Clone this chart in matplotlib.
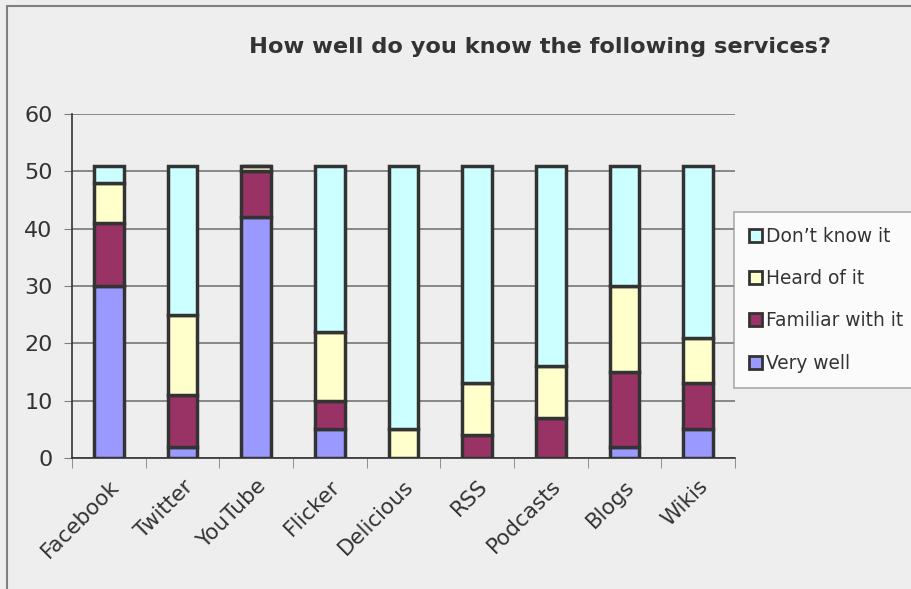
import matplotlib
matplotlib.use("Agg")
import matplotlib.pyplot as plt
from matplotlib.patches import Rectangle, Patch
import numpy as np

categories = ["Facebook", "Twitter", "YouTube", "Flicker", "Delicious", "RSS", "Podcasts", "Blogs", "Wikis"]
very_well = [30, 2, 42, 5, 0, 0, 0, 2, 5]
familiar = [11, 9, 8, 5, 0, 4, 7, 13, 8]
heard = [7, 14, 1, 12, 5, 9, 9, 15, 8]
dont_know = [3, 26, 0, 29, 46, 38, 35, 21, 30]

series = [("Very well", very_well, "#9999FF"),
          ("Familiar with it", familiar, "#993366"),
          ("Heard of it", heard, "#FFFFCC"),
          ("Don\u2019t know it", dont_know, "#CCFFFF")]

bg = "#EEEEEE"
edge = "#333333"
fig = plt.figure(figsize=(9.12, 5.89), dpi=100, facecolor=bg)
ax = fig.add_axes([72/912, 1-458/589, (735-72)/912, (458-114)/589])
ax.set_facecolor(bg)

x = np.arange(len(categories))
bottom = np.zeros(len(categories))
handles = []
for name, vals, col in series:
    ax.bar(x, vals, 0.4, bottom=bottom, color=col, edgecolor=edge, linewidth=2.5, zorder=3)
    bottom += np.array(vals)
    handles.append(Patch(facecolor=col, edgecolor=edge, linewidth=2, label=name))

ax.set_xlim(-0.5, len(categories) - 0.5)
ax.set_ylim(0, 60)
ax.set_yticks(range(0, 61, 10))
ax.yaxis.grid(True, color="#808080", linewidth=1.3, zorder=0)
for s in ["top", "right"]:
    ax.spines[s].set_visible(False)
for s in ["left", "bottom"]:
    ax.spines[s].set_color("#333333")
    ax.spines[s].set_linewidth(1.2)

ax.set_xticks(x)
ax.set_xticklabels(categories, rotation=45, ha="right", rotation_mode="anchor",
                   fontsize=15.5, color="#333333")
ax.tick_params(axis="x", which="major", length=0, pad=13)
ax.set_xticks(np.arange(-0.5, len(categories), 1), minor=True)
ax.tick_params(axis="x", which="minor", length=7, direction="out", color="#808080")
ax.tick_params(axis="y", length=6, direction="out", color="#808080", labelsize=16,
               labelcolor="#333333", pad=8)

fig.text(540/912, 1-47/589, "How well do you know the following services?",
         ha="center", va="center", fontsize=16.2, fontweight="bold", color="#333333")

leg = fig.legend(handles=handles[::-1], loc="upper left",
                 bbox_to_anchor=(734/912, 1-212/589), fontsize=13.4,
                 frameon=True, fancybox=False, edgecolor="#999999", facecolor="white",
                 handlelength=0.7, handleheight=0.7, handletextpad=0.2,
                 labelspacing=1.25, borderpad=0.8, borderaxespad=0)
for t in leg.get_texts():
    t.set_color("#333333")
leg.get_frame().set_linewidth(1.2)

fig.patches.append(Rectangle((7/912, -0.02), 1.0, 1 - 6/589 + 0.02, transform=fig.transFigure,
                             fill=False, edgecolor="#808080", linewidth=1.5))

fig.savefig("out.png", dpi=100, facecolor=bg)
